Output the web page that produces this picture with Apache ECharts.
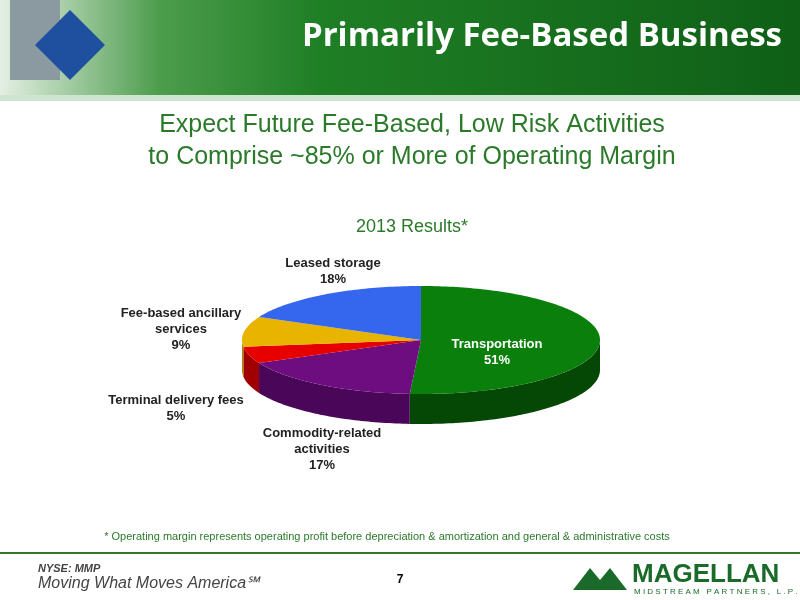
<!DOCTYPE html>
<html><head><meta charset="utf-8">
<script src="https://cdn.jsdelivr.net/npm/echarts@6/dist/echarts.min.js"></script>
<style>html,body{margin:0;padding:0;background:#fff}#c{width:800px;height:600px}</style>
</head><body><div id="c"></div>
<script>
const categories = ['Transportation','Commodity-related\nactivities','Terminal delivery fees','Fee-based ancillary\nservices','Leased storage'];
const values = [51,17,5,9,18];
const topColors = ['#0b7f0b','#6e0d80','#e60000','#e8b400','#3466ee'];
const sideColors = ['#054805','#4a0658','#a00000','#a88200','#2244aa'];
const labelPos = [[497,352],[322,449],[176,408],[181,329],[333,271]];

const total = values.reduce((a,b)=>a+b,0);
const cum = []; let s=0; values.forEach(v=>{cum.push(s); s+=v;});
const CX=421, CY=340, RX=179, RY=54, DEPTH=30;
function pt(th, dy){return [CX+RX*Math.sin(th), CY-RY*Math.cos(th)+(dy||0)];}
function arc(a,b,dy){const n=Math.max(2,Math.ceil((b-a)/0.02));const p=[];for(let i=0;i<=n;i++)p.push(pt(a+(b-a)*i/n,dy));return p;}
function angles(i){return [cum[i]/total*2*Math.PI,(cum[i]+values[i])/total*2*Math.PI];}

function T(x,y,text,font,fill,align,lh){return {type:'text',x:x,y:y,z:100,style:{text:text,fill:fill,font:font,align:align||'center',verticalAlign:'top',lineHeight:lh}};}
const chart = echarts.init(document.getElementById('c'));
const data = values.map((v,i)=>[v,i]);
chart.setOption({
  animation:false,
  graphic:[
    {type:'rect',shape:{x:0,y:0,width:800,height:95},style:{fill:new echarts.graphic.LinearGradient(0,0,1,0,[{offset:0,color:'#e4efe4'},{offset:0.2,color:'#4c9c4c'},{offset:0.4,color:'#1f7f25'},{offset:1,color:'#0f5f17'}])}},
    {type:'rect',shape:{x:0,y:95,width:800,height:6},style:{fill:'#cfe5cf'}},
    {type:'polygon',shape:{points:[[10,0],[60,0],[60,80],[10,80]]},style:{fill:'#8a9aa0'}},
    {type:'polygon',shape:{points:[[70,10],[105,45],[70,80],[35,45]]},style:{fill:'#1f4f9f'}},
    T(782,20,'Primarily Fee-Based Business','bold 33px "Open Sans", sans-serif','#fff','right'),
    T(412,109,'Expect Future Fee-Based, Low Risk Activities\nto Comprise ~85% or More of Operating Margin','25px "Liberation Sans", Arial','#2a7a2a','center',32),
    T(412,218,'2013 Results*','18px "Liberation Sans", Arial','#2a7a2a'),
    T(387,531,'* Operating margin represents operating profit before depreciation & amortization and general & administrative costs','11px "Liberation Sans", Arial','#2a7a2a'),
    {type:'rect',shape:{x:0,y:552,width:800,height:2},style:{fill:'#2a7a2a'}},
    T(38,563,'NYSE: MMP','italic bold 11px "Liberation Sans", Arial','#444','left'),
    T(38,576,'Moving What Moves America℠','italic 16px "Liberation Sans", Arial','#444','left'),
    T(400,574,'7','bold 12px "Liberation Sans", Arial','#000'),
    {type:'polygon',shape:{points:[[573,590],[590,568],[600,580],[610,568],[627,590]]},style:{fill:'#1a6b2a'}},
    T(632,562,'MAGELLAN','bold 26px "Liberation Sans", Arial','#1a6b2a','left'),
    T(634,588,'M I D S T R E A M   P A R T N E R S ,   L . P .','8px "Liberation Sans", Arial','#1a6b2a','left')
  ].concat(categories.map((c,i)=>({type:'text',x:labelPos[i][0],y:labelPos[i][1],z:100,style:{text:c+'\n'+values[i]+'%',fill:i===0?'#fff':'#222',font:'bold 13px "Liberation Sans", Arial',align:'center',verticalAlign:'middle',lineHeight:16}}))),
  series:[
    {type:'custom',coordinateSystem:'none',z:1,data:data,renderItem:(p,api)=>{
      const i=api.value(1);let [a,b]=angles(i);
      const lo=Math.max(a,Math.PI/2),hi=Math.min(b,1.5*Math.PI);
      if(hi<=lo) return {type:'group',children:[]};
      const top=arc(lo,hi,0),bot=arc(lo,hi,DEPTH).reverse();
      return {type:'polygon',shape:{points:top.concat(bot)},style:{fill:sideColors[i]}};
    }},
    {type:'custom',coordinateSystem:'none',z:2,data:data,renderItem:(p,api)=>{
      const i=api.value(1);const [a,b]=angles(i);
      return {type:'polygon',shape:{points:[[CX,CY]].concat(arc(a,b,0))},style:{fill:topColors[i]}};
    }}
  ]
});
</script></body></html>
